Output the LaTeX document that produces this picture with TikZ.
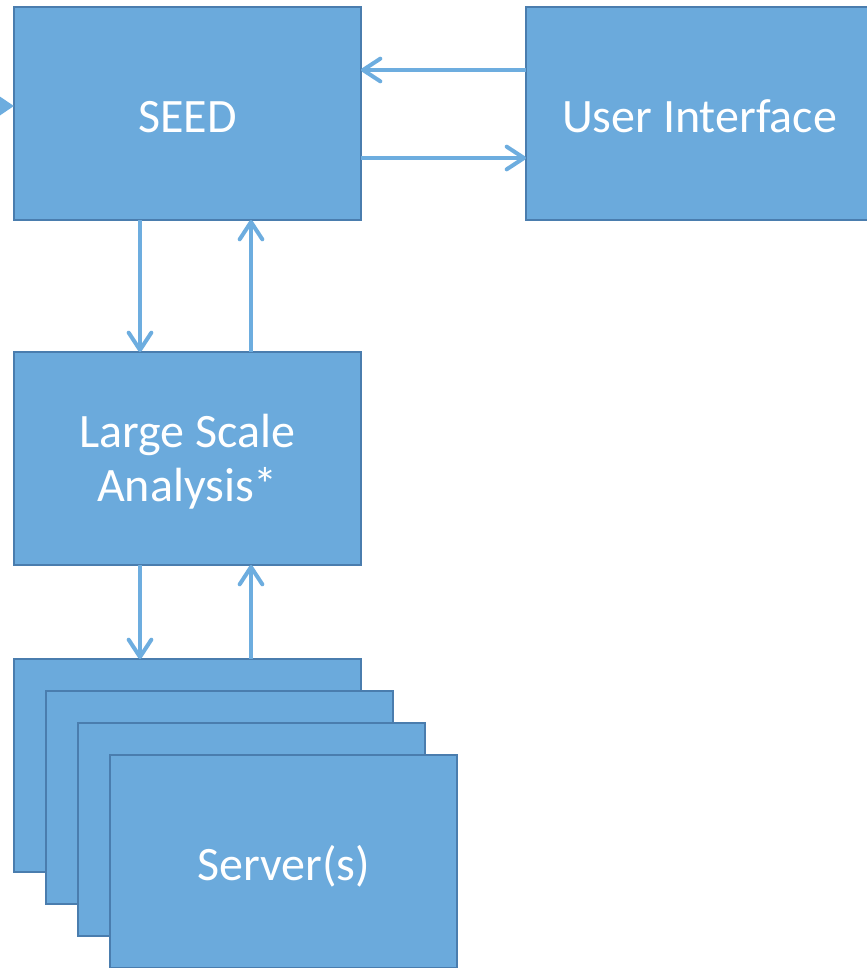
\documentclass[tikz,border=0pt]{standalone}
\usepackage{fontspec}
\setmainfont{Carlito}
\usetikzlibrary{arrows.meta}
\definecolor{boxfill}{HTML}{6BAADC}
\definecolor{boxline}{HTML}{4A7DAE}
\definecolor{arrcol}{HTML}{6DADDF}
\begin{document}
\begin{tikzpicture}[x=0.75pt,y=-0.75pt,
  box/.style={draw=boxline, fill=boxfill, line width=1.5pt, anchor=north west,
    minimum width=260.25pt, minimum height=159.75pt, inner sep=0pt, outer sep=0pt,
    text=white, align=center, font=\fontsize{36}{40.5}\selectfont},
  oneline/.style={text height=29.2pt, text depth=0pt},
  twoline/.style={text height=64.5pt, text depth=0pt},
  arr/.style={draw=arrcol, line width=3pt, -{Straight Barb[length=13pt,width=17pt,round]}}
]
\useasboundingbox (0,0) rectangle (867,968);
\node[box,oneline] (seed) at (14,7) {SEED};
\node[box,oneline] (ui) at (526,7) {User Interface};
\node[box,twoline] (lsa) at (14,352) {Large Scale\\Analysis*};
\node[box] (s1) at (14,659) {};
\node[box] (s2) at (46,691) {};
\node[box] (s3) at (78,723) {};
\node[box,oneline] (s4) at (110,755) {Server(s)};
\coordinate (lin) at (-40,106);
\draw[draw=arrcol, line width=3pt, -{Triangle[length=11pt,width=14pt]}] (lin) -- (seed.west |- lin);
\coordinate (yA) at (0,70);
\coordinate (yB) at (0,158);
\coordinate (xA) at (140,0);
\coordinate (xB) at (251,0);
\draw[arr] (ui.west |- yA) -- (seed.east |- yA);
\draw[arr] (seed.east |- yB) -- (ui.west |- yB);
\draw[arr] (seed.south -| xA) -- (lsa.north -| xA);
\draw[arr] (lsa.north -| xB) -- (seed.south -| xB);
\draw[arr] (lsa.south -| xA) -- (s1.north -| xA);
\draw[arr] (s1.north -| xB) -- (lsa.south -| xB);
\end{tikzpicture}
\end{document}
